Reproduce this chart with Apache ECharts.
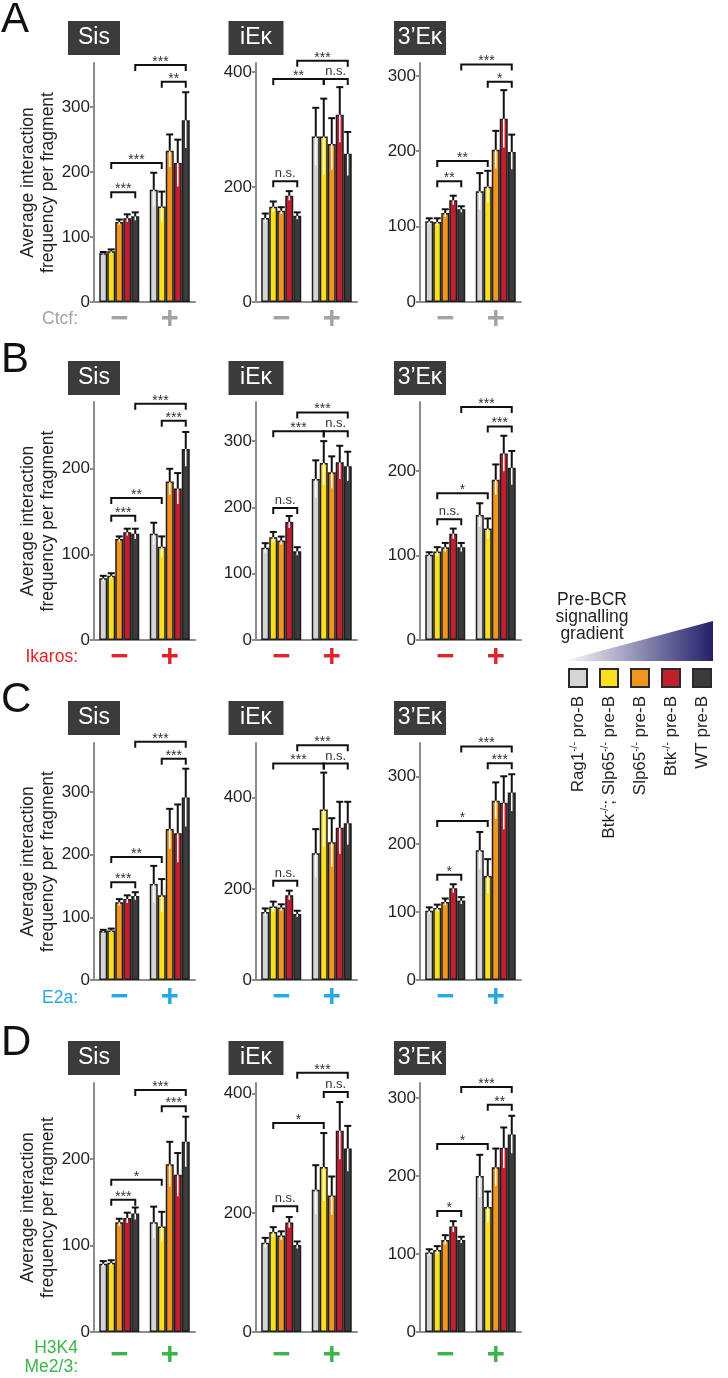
<!DOCTYPE html>
<html>
<head>
<meta charset="utf-8">
<title>Pre-BCR signalling gradient</title>
<script src="https://cdn.jsdelivr.net/npm/echarts@6/dist/echarts.min.js"></script>
<style>
    html, body {margin: 0; padding: 0; background: #fff;}
    #main {width: 728px; height: 1378px;}
</style>
</head>
<body>
<div id="main"></div>
<script>
var categories = ['\u2212', '+'];
var regions = ['Sis', 'iE\u03ba', '3\u2019E\u03ba'];
var genotypes = ['Rag1', 'Btk; Slp65', 'Slp65', 'Btk', 'WT'];
var barColors = ['#d5d5d5', '#fbdf1c', '#f0951f', '#c11f2f', '#3b3b3b'];
var factors = ['Ctcf:', 'Ikaros:', 'E2a:', 'H3K4\nMe2/3:'];
var factorColors = ['#a3a3a3', '#e3232a', '#26a9e0', '#3bb44a'];
var letters = ['A', 'B', 'C', 'D'];

// bars: 5 genotypes for "-" then 5 for "+"
// brackets: yellow- vs WT-, yellow- vs yellow+, yellow+ vs WT+, WT- vs WT+
var bracketPairs = [[1, 4], [1, 6], [6, 9], [4, 9]];

// A - Ctcf
var ctcfSisMean = [75, 78, 123, 129, 132, 173, 147, 233, 214, 280];
var ctcfSisSem = [2, 3, 4, 6, 6, 26, 23, 25, 36, 43];
var ctcfSisSig = [169, 214, 339, 365];
var ctcfSisStars = ['***', '***', '**', '***'];
var ctcfIekMean = [146, 166, 159, 185, 150, 288, 288, 275, 326, 258];
var ctcfIekSem = [8, 9, 6, 8, 6, 50, 66, 45, 48, 38];
var ctcfIekSig = [210, 388, 388, 420];
var ctcfIekStars = ['n.s.', '**', 'n.s.', '***'];
var ctcf3ekMean = [107, 106, 118, 135, 123, 147, 153, 202, 243, 199];
var ctcf3ekSem = [4, 5, 5, 6, 4, 24, 21, 25, 38, 23];
var ctcf3ekSig = [160, 187, 292, 315];
var ctcf3ekStars = ['**', '**', '*', '***'];
var ctcfTicks = [[0, 100, 200, 300], [0, 200, 400], [0, 100, 200, 300]];
var ctcfMax = [368, 416, 317];

// B - Ikaros
var ikarosSisMean = [72, 75, 118, 126, 124, 124, 109, 185, 177, 223];
var ikarosSisSem = [3, 3, 3, 4, 6, 13, 12, 15, 18, 20];
var ikarosSisSig = [145, 166, 256, 276];
var ikarosSisStars = ['***', '**', '***', '***'];
var ikarosIekMean = [139, 155, 150, 178, 134, 243, 267, 253, 268, 262];
var ikarosIekSem = [7, 8, 6, 9, 6, 28, 33, 24, 25, 22];
var ikarosIekSig = [199, 315, 315, 343];
var ikarosIekStars = ['n.s.', '***', 'n.s.', '***'];
var ikaros3ekMean = [101, 105, 110, 126, 110, 148, 132, 190, 221, 204];
var ikaros3ekSem = [3, 5, 5, 6, 5, 14, 12, 18, 21, 20];
var ikaros3ekSig = [143, 174, 253, 276];
var ikaros3ekStars = ['n.s.', '*', '***', '***'];
var ikarosTicks = [[0, 100, 200], [0, 100, 200, 300], [0, 100, 200]];
var ikarosMax = [278, 359, 282];

// C - E2a
var e2aSisMean = [78, 79, 124, 129, 134, 153, 135, 241, 234, 291];
var e2aSisSem = [2, 3, 5, 6, 6, 29, 26, 32, 46, 46];
var e2aSisSig = [156, 196, 353, 380];
var e2aSisStars = ['***', '**', '***', '***'];
var e2aIekMean = [149, 161, 159, 186, 145, 278, 374, 302, 334, 344];
var e2aIekSem = [8, 11, 7, 10, 7, 53, 81, 53, 57, 47];
var e2aIekSig = [218, 475, 475, 515];
var e2aIekStars = ['n.s.', '***', 'n.s.', '***'];
var e2a3ekMean = [102, 106, 115, 135, 117, 191, 153, 264, 261, 276];
var e2a3ekSem = [5, 5, 5, 6, 5, 27, 25, 27, 39, 27];
var e2a3ekSig = [155, 234, 319, 344];
var e2a3ekStars = ['*', '*', '***', '***'];
var e2aTicks = [[0, 100, 200, 300], [0, 200, 400], [0, 100, 200, 300]];
var e2aMax = [378, 520, 349];

// D - H3K4Me2/3
var h3k4SisMean = [79, 80, 127, 132, 137, 127, 122, 194, 182, 220];
var h3k4SisSem = [3, 3, 4, 6, 7, 18, 17, 26, 25, 29];
var h3k4SisSig = [153, 176, 261, 280];
var h3k4SisStars = ['***', '*', '***', '***'];
var h3k4IekMean = [150, 168, 162, 184, 146, 239, 277, 229, 338, 308];
var h3k4IekSem = [8, 8, 7, 9, 6, 41, 57, 32, 48, 38];
var h3k4IekSig = [211, 351, 403, 435];
var h3k4IekStars = ['n.s.', '*', 'n.s.', '***'];
var h3k43ekMean = [102, 105, 118, 135, 118, 200, 160, 211, 236, 253];
var h3k43ekSem = [4, 5, 6, 7, 4, 27, 20, 24, 26, 24];
var h3k43ekSig = [155, 241, 291, 314];
var h3k43ekStars = ['*', '*', '**', '***'];
var h3k4Ticks = [[0, 100, 200], [0, 200, 400], [0, 100, 200, 300]];
var h3k4Max = [288, 418, 319];

var panels = [
    [ctcfSisMean, ctcfSisSem, ctcfSisSig, ctcfSisStars],
    [ctcfIekMean, ctcfIekSem, ctcfIekSig, ctcfIekStars],
    [ctcf3ekMean, ctcf3ekSem, ctcf3ekSig, ctcf3ekStars],
    [ikarosSisMean, ikarosSisSem, ikarosSisSig, ikarosSisStars],
    [ikarosIekMean, ikarosIekSem, ikarosIekSig, ikarosIekStars],
    [ikaros3ekMean, ikaros3ekSem, ikaros3ekSig, ikaros3ekStars],
    [e2aSisMean, e2aSisSem, e2aSisSig, e2aSisStars],
    [e2aIekMean, e2aIekSem, e2aIekSig, e2aIekStars],
    [e2a3ekMean, e2a3ekSem, e2a3ekSig, e2a3ekStars],
    [h3k4SisMean, h3k4SisSem, h3k4SisSig, h3k4SisStars],
    [h3k4IekMean, h3k4IekSem, h3k4IekSig, h3k4IekStars],
    [h3k43ekMean, h3k43ekSem, h3k43ekSig, h3k43ekStars]
];
var rowTicks = [ctcfTicks, ikarosTicks, e2aTicks, h3k4Ticks];
var rowMax = [ctcfMax, ikarosMax, e2aMax, h3k4Max];

// layout (px)
var rowTop = [63, 402, 743, 1083];
var rowZero = [302, 640, 980, 1332];
var colLeft = [94, 256, 420];
var boxTop = [21, 361, 701, 1041];
var boxWidth = [52, 55, 52];
var barW = 8;
var font = '"Liberation Sans", Arial, sans-serif';
var axisGray = '#8c8c8c';

var myChart = echarts.init(document.getElementById('main'));

var grid = [], xAxis = [], yAxis = [], series = [], graphic = [];

panels.forEach(function (p, i) {
    var row = Math.floor(i / 3), col = i % 3;
    var mean = p[0], sem = p[1], sig = p[2], stars = p[3];
    var ticks = rowTicks[row][col];

    grid.push({left: colLeft[col], top: rowTop[row], width: 101, height: rowZero[row] - rowTop[row]});
    xAxis.push({
        type: 'category', gridIndex: i, data: categories,
        axisLine: {lineStyle: {color: axisGray, width: 2}},
        axisTick: {length: 5, lineStyle: {color: axisGray, width: 2}},
        axisLabel: {
            color: factorColors[row], fontSize: 31, fontWeight: 'bold',
            margin: row == 3 ? 23 : 17, verticalAlign: 'middle'
        }
    });
    yAxis.push({
        type: 'value', gridIndex: i, min: 0, max: rowMax[row][col],
        splitLine: {show: false},
        axisLine: {show: true, lineStyle: {color: axisGray, width: 2}},
        axisTick: {show: true, length: 4, customValues: ticks, lineStyle: {color: axisGray, width: 2}},
        axisLabel: {customValues: ticks, fontSize: 17, color: '#231f20', margin: 4},
        name: col == 0 ? 'Average interaction\nfrequency per fragment' : '',
        nameLocation: 'middle', nameRotate: 90, nameGap: 36,
        nameTextStyle: {fontSize: 17.5, lineHeight: 20, color: '#231f20'}
    });

    for (var k = 0; k < 5; k++) {
        series.push({
            type: 'bar', xAxisIndex: i, yAxisIndex: i,
            barWidth: barW, barGap: '0%',
            data: [mean[k], mean[k + 5]],
            itemStyle: {color: barColors[k], borderColor: '#1e1e1e', borderWidth: 1.5},
            silent: true
        });
    }

    // error bars, upper half black, lower half white over the bar
    series.push({
        type: 'custom', xAxisIndex: i, yAxisIndex: i, z: 5, clip: false, silent: true,
        data: mean.map(function (m, j) { return [j < 5 ? 0 : 1, m, sem[j], j % 5]; }),
        renderItem: function (params, api) {
            var c = api.value(0), v = api.value(1), e = api.value(2), b = api.value(3);
            var base = api.coord([c, v]);
            var x = base[0] + (b - 2) * barW;
            var yTop = api.coord([c, v + e])[1];
            var yLow = api.coord([c, v - e])[1];
            return {type: 'group', children: [
                {type: 'line', shape: {x1: x, y1: yLow, x2: x, y2: base[1]}, style: {stroke: '#fff', lineWidth: 1.5}},
                {type: 'line', shape: {x1: x, y1: base[1], x2: x, y2: yTop}, style: {stroke: '#111', lineWidth: 2}},
                {type: 'line', shape: {x1: x - 3.5, y1: yTop, x2: x + 3.5, y2: yTop}, style: {stroke: '#111', lineWidth: 2}}
            ]};
        }
    });

    // significance brackets
    series.push({
        type: 'custom', xAxisIndex: i, yAxisIndex: i, z: 6, clip: false, silent: true,
        data: bracketPairs.map(function (pr, n) {
            return [Math.floor(pr[0] / 5), sig[n], pr[0] % 5, Math.floor(pr[1] / 5), pr[1] % 5];
        }),
        renderItem: function (params, api) {
            var y = api.coord([api.value(0), api.value(1)])[1];
            var x1 = api.coord([api.value(0), 0])[0] + (api.value(2) - 2) * barW;
            var x2 = api.coord([api.value(3), 0])[0] + (api.value(4) - 2) * barW;
            var label = stars[params.dataIndex];
            var isStar = label.indexOf('*') >= 0;
            return {type: 'group', children: [
                {type: 'polyline', shape: {points: [[x1, y + 6], [x1, y], [x2, y], [x2, y + 6]]},
                    style: {stroke: '#111', lineWidth: 2, fill: null}},
                {type: 'text', x: (x1 + x2) / 2, y: isStar ? y + 4 : y - 1,
                    style: {text: label, align: 'center', verticalAlign: 'bottom',
                        fontSize: isStar ? 14 : 13, fill: '#333', fontFamily: font}}
            ]};
        }
    });

    // region title boxes
    graphic.push({type: 'rect', shape: {x: colLeft[col] - boxWidth[col] / 2, y: boxTop[row], width: boxWidth[col], height: 34},
        style: {fill: '#3b3b3b'}});
    graphic.push({type: 'text', x: colLeft[col], y: boxTop[row] + 17,
        style: {text: regions[col], fill: '#fff', fontSize: 23, fontFamily: font, align: 'center', verticalAlign: 'middle'}});
});

// row letters and factor labels
var letterY = [20, 360, 700, 1043];
var factorY = [319, 657, 998, 1358];
letters.forEach(function (l, r) {
    graphic.push({type: 'text', x: 1, y: letterY[r],
        style: {text: l, fontSize: 42, fill: '#111', fontFamily: font, align: 'left', verticalAlign: 'middle'}});
    graphic.push({type: 'text', x: 78, y: factorY[r],
        style: {text: factors[r], fontSize: 17.5, lineHeight: 19, fill: factorColors[r], fontFamily: font,
            align: 'right', verticalAlign: 'middle'}});
});

// legend: gradient wedge
graphic.push({type: 'polygon', shape: {points: [[563, 661], [713, 621], [713, 661]]},
    style: {fill: new echarts.graphic.LinearGradient(0, 0, 1, 0, [
        {offset: 0, color: '#ffffff'}, {offset: 1, color: '#23206a'}])}});
graphic.push({type: 'text', x: 592, y: 592,
    style: {text: 'Pre-BCR\nsignalling\ngradient', fontSize: 17.5, lineHeight: 17, fill: '#231f20', fontFamily: font,
        align: 'center', verticalAlign: 'top'}});

var legendText = [
    '{n|Rag1}{s|-/-}{n| pro-B}',
    '{n|Btk}{s|-/-}{n|; Slp65}{s|-/-}{n| pre-B}',
    '{n|Slp65}{s|-/-}{n| pre-B}',
    '{n|Btk}{s|-/-}{n| pre-B}',
    '{n|WT pre-B}'
];
genotypes.forEach(function (g, k) {
    var x = 569 + k * 31;
    graphic.push({type: 'rect', shape: {x: x, y: 669, width: 18, height: 18},
        style: {fill: barColors[k], stroke: '#2a2a2a', lineWidth: 2}});
    graphic.push({type: 'text', x: x + 9, y: 696, rotation: Math.PI / 2,
        style: {text: legendText[k], align: 'right', verticalAlign: 'middle', fontFamily: font,
            rich: {
                n: {fontSize: 17, fill: '#231f20', fontFamily: font},
                s: {fontSize: 10, fill: '#231f20', fontFamily: font, verticalAlign: 'top'}
            }}});
});

var option = {
    animation: false,
    textStyle: {fontFamily: font},
    grid: grid,
    xAxis: xAxis,
    yAxis: yAxis,
    series: series,
    graphic: graphic
};

myChart.setOption(option);
</script>
</body>
</html>
